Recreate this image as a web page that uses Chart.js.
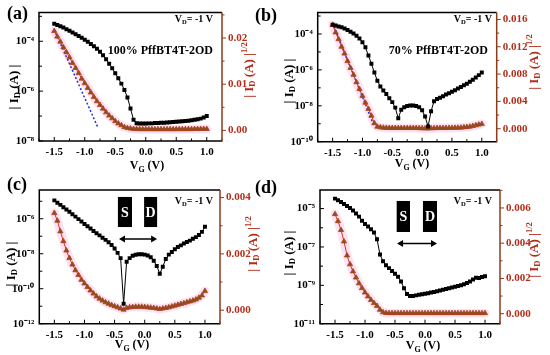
<!DOCTYPE html>
<html>
<head>
<meta charset="utf-8">
<script src="https://cdn.jsdelivr.net/npm/chart.js@4.4.1/dist/chart.umd.min.js"></script>
<style>
  body { margin: 0; background: #fff; width: 550px; height: 355px; position: relative; overflow: hidden; }
  canvas { position: absolute; }
  .tag { position: absolute; font: bold 18px "Liberation Serif", "Times New Roman", serif; line-height: 18px; color: #000; }
</style>
</head>
<body>
<canvas id="ca" width="275" height="177" style="left:0;top:0"></canvas>
<canvas id="cb" width="275" height="177" style="left:275px;top:0"></canvas>
<canvas id="cc" width="275" height="178" style="left:0;top:177px"></canvas>
<canvas id="cd" width="275" height="178" style="left:275px;top:177px"></canvas>
<div class="tag" style="left:7px;top:4px">(a)</div>
<div class="tag" style="left:255px;top:6px">(b)</div>
<div class="tag" style="left:7px;top:175px">(c)</div>
<div class="tag" style="left:255px;top:178px">(d)</div>
<script>
// gate voltage sweep (V)
const vg = [-1.5, -1.45, -1.4, -1.35, -1.3, -1.25, -1.2, -1.15, -1.1, -1.05, -1.0, -0.95, -0.9, -0.85, -0.8, -0.75, -0.7, -0.65, -0.6, -0.55, -0.5,
  -0.45, -0.4, -0.35, -0.3, -0.25, -0.2, -0.15, -0.1, -0.05, 0, 0.05, 0.1, 0.15, 0.2, 0.25, 0.3, 0.35, 0.4, 0.45, 0.5,
  0.55, 0.6, 0.65, 0.7, 0.75, 0.8, 0.85, 0.9, 0.95, 1.0];

// |ID| (A), left log axis
const idA = [5.0e-4, 4.47e-4, 3.98e-4, 3.55e-4, 3.02e-4, 2.63e-4, 2.24e-4, 1.91e-4, 1.62e-4, 1.38e-4, 1.15e-4, 9.5e-5, 7.8e-5, 6.3e-5, 5.0e-5, 3.8e-5, 2.75e-5,
  1.9e-5, 1.26e-5, 8.3e-6, 5.2e-6, 3.3e-6, 2.0e-6, 1.12e-6, 5.6e-7, 2.0e-7, 7.1e-8, 5.2e-8, 5.0e-8, 5.0e-8, 5.0e-8, 5.1e-8, 5.1e-8, 5.25e-8,
  5.25e-8, 5.4e-8, 5.4e-8, 5.5e-8, 5.6e-8, 5.75e-8, 5.9e-8, 6.0e-8, 6.2e-8, 6.3e-8, 6.5e-8, 6.8e-8, 7.1e-8, 7.4e-8, 7.9e-8, 8.7e-8, 1.0e-7];
const idB = [3.3e-4, 2.95e-4, 2.63e-4, 2.34e-4, 2.0e-4, 1.66e-4, 1.32e-4, 1.05e-4, 7.9e-5, 5.6e-5, 3.5e-5, 1.8e-5, 6.3e-6, 2.2e-6, 7.1e-7, 2.5e-7, 1.2e-7,
  7.1e-8, 4.5e-8, 2.6e-8, 1.6e-8, 7.9e-9, 2.0e-9, 6.0e-9, 8.3e-9, 9.8e-9, 1.05e-8, 1.05e-8, 9.8e-9, 8.3e-9, 5.6e-9, 2.5e-9, 7.1e-10, 5.0e-9,
  1.8e-8, 2.4e-8, 2.8e-8, 3.4e-8, 4.2e-8, 5.0e-8, 6.0e-8, 7.4e-8, 9.1e-8, 1.12e-7, 1.38e-7, 1.7e-7, 2.2e-7, 2.8e-7, 3.8e-7, 5.1e-7, 7.1e-7];
const idC = [1.12e-5, 8.3e-6, 6.2e-6, 4.6e-6, 3.4e-6, 2.5e-6, 1.82e-6, 1.32e-6, 9.5e-7, 6.9e-7, 5.0e-7, 3.7e-7, 2.75e-7, 2.0e-7, 1.5e-7, 1.12e-7, 8.3e-8,
  6.2e-8, 4.5e-8, 3.2e-8, 2.0e-8, 1.12e-8, 5.6e-9, 1.4e-11, 3.5e-9, 5.6e-9, 7.6e-9, 8.7e-9, 9.3e-9, 9.3e-9, 8.9e-9, 7.9e-9, 6.3e-9, 4.0e-9,
  2.0e-9, 7.1e-10, 1.8e-9, 5.0e-9, 8.9e-9, 1.26e-8, 1.8e-8, 2.4e-8, 3.0e-8, 3.8e-8, 4.7e-8, 5.6e-8, 7.1e-8, 8.9e-8, 1.17e-7, 1.78e-7, 3.5e-7];
const idD = [3.3e-5, 2.7e-5, 2.2e-5, 1.74e-5, 1.38e-5, 1.07e-5, 7.9e-6, 5.6e-6, 3.8e-6, 2.3e-6, 1.58e-6, 1.17e-6, 8.3e-7, 5.6e-7, 2.5e-7, 4.0e-8, 1.8e-8,
  1.12e-8, 7.9e-9, 5.6e-9, 4.0e-9, 2.8e-9, 1.6e-9, 7.1e-10, 3.5e-10, 2.8e-10, 2.8e-10, 3.0e-10, 3.2e-10, 3.4e-10, 3.6e-10, 3.9e-10, 4.2e-10,
  4.5e-10, 4.9e-10, 5.4e-10, 5.9e-10, 6.5e-10, 7.1e-10, 7.8e-10, 8.5e-10, 9.3e-10, 1.02e-9, 1.15e-9, 1.32e-9, 1.6e-9, 2.0e-9, 2.5e-9, 2.4e-9, 2.7e-9, 3.0e-9];

// |ID|^1/2, right linear axis
const sqA = [0.0215, 0.0203, 0.0192, 0.018, 0.0169, 0.0158, 0.0146, 0.0135, 0.0124, 0.0112, 0.0102, 0.0092, 0.0082, 0.0072, 0.0063, 0.0055, 0.0047,
  0.0039, 0.0032, 0.0026, 0.002, 0.0015, 0.0011, 0.0007, 0.0005, 0.0004, 0.0003, 0.00028, 0.00026, 0.00025, 0.00025, 0.00025, 0.00025, 0.00025,
  0.00025, 0.00025, 0.00025, 0.00025, 0.00025, 0.00025, 0.00025, 0.00026, 0.00026, 0.00026, 0.00027, 0.00027, 0.00028, 0.00028, 0.00029, 0.0003, 0.0003];
const sqB = [0.0152, 0.0141, 0.0131, 0.012, 0.011, 0.0099, 0.0089, 0.0079, 0.0068, 0.0058, 0.0048, 0.0038, 0.0029, 0.0019, 0.0008, 0.0003, 0.0002,
  0.00015, 0.00012, 0.0001, 0.0001, 0.0001, 0.0001, 0.0001, 0.0001, 0.0001, 0.0001, 0.0001, 0.00009, 0.00008, 0.00006, 0.00004, 0.00003, 0.00006,
  0.00008, 0.00009, 0.0001, 0.0001, 0.0001, 0.00011, 0.00012, 0.00013, 0.00014, 0.00016, 0.0002, 0.00025, 0.0003, 0.0004, 0.0005, 0.0006, 0.0007];
const sqC = [0.00345, 0.00318, 0.0028, 0.00245, 0.00212, 0.00185, 0.00162, 0.00142, 0.00125, 0.00108, 0.00095, 0.00082, 0.0007, 0.00059, 0.00049,
  0.00041, 0.00034, 0.00028, 0.00023, 0.00018, 0.00014, 0.0001, 0.00006, 0.00002, 0.00008, 0.0001, 0.00011, 0.00012, 0.00012, 0.00012, 0.00011,
  0.0001, 0.00009, 0.00008, 0.00006, 0.00004, 0.00006, 0.00008, 0.0001, 0.00013, 0.00016, 0.00019, 0.00022, 0.00025, 0.00028, 0.00031, 0.00034,
  0.00038, 0.00044, 0.00052, 0.00068];
const sqD = [0.00565, 0.00525, 0.00475, 0.0041, 0.0033, 0.0028, 0.0024, 0.00205, 0.00172, 0.00145, 0.0012, 0.00098, 0.00078, 0.0006, 0.00044, 0.00022,
  0.00008, 0.00004, 0.00003, 0.00003, 0.00003, 0.00003, 0.00003, 0.00003, 0.00003, 0.00003, 0.00003, 0.00003, 0.00003, 0.00003, 0.00003, 0.00003,
  0.00003, 0.00003, 0.00003, 0.00003, 0.00003, 0.00003, 0.00003, 0.00003, 0.00003, 0.00003, 0.00003, 0.00003, 0.00003, 0.00003, 0.00003, 0.00003,
  0.00003, 0.00003, 0.00003];

// linear fits (dotted blue)
const fitAx = [-1.5, -0.78], fitAy = [0.0218, 0.0005];
const fitBx = [-1.5, -0.8], fitBy = [0.0155, 0.0003];

// tick labels
const xTicks = [-1.5, -1.0, -0.5, 0, 0.5, 1.0];
const leftTicksA = [1e-8, 1e-6, 1e-4];
const leftTicksB = [1e-10, 1e-8, 1e-6, 1e-4];
const leftTicksC = [1e-12, 1e-10, 1e-8, 1e-6];
const leftTicksD = [1e-11, 1e-9, 1e-7, 1e-5];
const rightTicksA = [0, 0.01, 0.02];
const rightTicksB = [0, 0.004, 0.008, 0.012, 0.016];
const rightTicksC = [0, 0.002, 0.004];
const rightTicksD = [0, 0.002, 0.004, 0.006];

const SERIF = '"Liberation Serif", "Times New Roman", serif';
const RED = '#b32e1a';
const BROWN = '#8b3a1a';
const SUP = { '-': '⁻', '0': '⁰', '1': '¹', '2': '²', '3': '³', '4': '⁴', '5': '⁵', '6': '⁶', '7': '⁷', '8': '⁸', '9': '⁹' };

const ID_TITLE = [['| I', 0], ['D', 1], [' (A) |', 0]];
const SQ_TITLE = [['| I', 0], ['D', 1], [' (A) |', 0], ['1/2', 2]];
const VG_TITLE = [['V', 0], ['G', 1], [' (V)', 0]];
const VD_NOTE = [['V', 0], ['D', 1], ['= -1 V', 0]];

function pow10Label(v) {
  const e = String(Math.round(Math.log10(v)));
  return '10' + e.split('').map(c => SUP[c]).join('');
}

// text with sub/superscript parts; mode 0 normal, 1 sub, 2 sup
function drawParts(ctx, parts, x, y, size, color, rot, align) {
  ctx.save();
  ctx.translate(x, y);
  if (rot) ctx.rotate(rot);
  ctx.fillStyle = color;
  ctx.textBaseline = 'alphabetic';
  ctx.textAlign = 'left';
  const fonts = parts.map(p => 'bold ' + (p[1] ? size * 0.66 : size) + 'px ' + SERIF);
  let w = 0;
  parts.forEach((p, i) => { ctx.font = fonts[i]; w += ctx.measureText(p[0]).width; });
  let cx = align === 'right' ? -w : align === 'left' ? 0 : -w / 2;
  parts.forEach((p, i) => {
    ctx.font = fonts[i];
    const dy = p[1] === 1 ? size * 0.22 : p[1] === 2 ? -size * 0.42 : 0;
    ctx.fillText(p[0], cx, size * 0.35 + dy);
    cx += ctx.measureText(p[0]).width;
  });
  ctx.restore();
}

function arrow(ctx, x1, x2, y) {
  ctx.save();
  ctx.strokeStyle = '#000';
  ctx.fillStyle = '#000';
  ctx.lineWidth = 1.5;
  ctx.beginPath(); ctx.moveTo(x1 + 3, y); ctx.lineTo(x2 - 3, y); ctx.stroke();
  [[x1, 1], [x2, -1]].forEach(([x, d]) => {
    ctx.beginPath(); ctx.moveTo(x, y); ctx.lineTo(x + 6 * d, y - 3.5); ctx.lineTo(x + 6 * d, y + 3.5); ctx.closePath(); ctx.fill();
  });
  ctx.restore();
}

function makePanel(id, p) {
  const canvas = document.getElementById(id);
  const A = p.area;
  const pts = ys => vg.map((x, i) => ({ x, y: ys[i] }));
  const datasets = [
    { data: pts(p.cur), yAxisID: 'y', order: 1, borderColor: '#000', borderWidth: 1, pointStyle: 'rect',
      pointRadius: 2.8, pointBackgroundColor: '#000', pointBorderColor: '#000', pointBorderWidth: 0 },
    { data: pts(p.sq), yAxisID: 'y2', order: 2, borderColor: '#d8321e', borderWidth: 1, pointStyle: 'triangle',
      pointRadius: 3, pointBackgroundColor: '#7a5a1c', pointBorderColor: '#b83a1e', pointBorderWidth: 0.8 },
    { data: pts(p.sq), yAxisID: 'y2', order: 9, borderColor: 'rgba(250,160,215,0.3)', borderWidth: 9,
      pointRadius: 0, borderCapStyle: 'round', borderJoinStyle: 'round' }
  ];
  if (p.fitX) {
    datasets.push({ data: p.fitX.map((x, i) => ({ x, y: p.fitY[i] })), yAxisID: 'y2', order: 3,
      borderColor: '#2233cc', borderWidth: 1.5, borderDash: [2, 2], pointRadius: 0 });
  }

  const deco = {
    id: 'deco',
    afterDraw(chart) {
      const { ctx, chartArea: a, scales } = chart;
      ctx.save();
      // inward / outward tick marks
      ctx.lineWidth = 1;
      ctx.strokeStyle = '#000';
      scales.x.ticks.forEach(t => {
        const px = scales.x.getPixelForValue(t.value);
        ctx.beginPath(); ctx.moveTo(px, a.bottom); ctx.lineTo(px, a.bottom - (t.label ? 4 : 2.5)); ctx.stroke();
      });
      scales.y.ticks.forEach(t => {
        const py = scales.y.getPixelForValue(t.value);
        ctx.beginPath(); ctx.moveTo(a.left, py); ctx.lineTo(a.left + (t.label ? 4 : 3), py); ctx.stroke();
      });
      ctx.strokeStyle = BROWN;
      scales.y2.ticks.forEach(t => {
        const py = scales.y2.getPixelForValue(t.value);
        ctx.beginPath(); ctx.moveTo(a.right, py); ctx.lineTo(a.right + (t.label ? 4 : 2.5), py); ctx.stroke();
      });
      // frame
      ctx.lineWidth = 1.5;
      ctx.strokeStyle = '#000';
      ctx.beginPath();
      ctx.moveTo(a.right, a.top); ctx.lineTo(a.left, a.top); ctx.lineTo(a.left, a.bottom); ctx.lineTo(a.right, a.bottom);
      ctx.stroke();
      ctx.strokeStyle = BROWN;
      ctx.beginPath(); ctx.moveTo(a.right, a.top); ctx.lineTo(a.right, a.bottom + 0.75); ctx.stroke();
      ctx.restore();

      // axis titles
      drawParts(ctx, ID_TITLE, p.lt[0], p.lt[1], 13, '#000', -Math.PI / 2, 'center');
      drawParts(ctx, SQ_TITLE, p.rt[0], p.rt[1], 13, RED, -Math.PI / 2, 'center');
      drawParts(ctx, VG_TITLE, p.xt[0], p.xt[1], 12, '#000', 0, 'center');
      // notes
      drawParts(ctx, VD_NOTE, p.vd[0], p.vd[1], 10, '#000', 0, 'right');
      if (p.name) drawParts(ctx, [[p.name, 0]], p.nm[0], p.nm[1], 12, '#000', 0, 'right');
      // source / drain sketch
      if (p.inset) {
        const w = a.right - a.left, h = a.bottom - a.top;
        const s = p.inset;
        ctx.save();
        [[s.s, 'S'], [s.d, 'D']].forEach(([fx, ch]) => {
          const x0 = a.left + fx[0] * w, x1 = a.left + fx[1] * w;
          const y0 = a.top + s.y[0] * h, y1 = a.top + s.y[1] * h;
          ctx.fillStyle = '#000';
          ctx.fillRect(x0, y0, x1 - x0, y1 - y0);
          ctx.fillStyle = '#fff';
          ctx.font = 'bold 14px ' + SERIF;
          ctx.textAlign = 'center';
          ctx.textBaseline = 'middle';
          ctx.fillText(ch, (x0 + x1) / 2, (y0 + y1) / 2 + 1);
        });
        ctx.restore();
        arrow(ctx, a.left + s.ar[0] * w, a.left + s.ar[1] * w, a.top + s.ar[2] * h);
      }
    }
  };

  new Chart(canvas, {
    type: 'line',
    data: { datasets },
    options: {
      responsive: false,
      animation: false,
      devicePixelRatio: 1,
      layout: { padding: { top: A.t, left: 0, right: 0, bottom: 0 } },
      plugins: { legend: { display: false }, tooltip: { enabled: false } },
      scales: {
        x: {
          type: 'linear', min: -1.75, max: 1.25,
          afterBuildTicks: s => {
            const t = [];
            for (let k = -7; k <= 5; k++) t.push({ value: k * 0.25 });
            s.ticks = t;
          },
          afterFit: s => { s.height = p.H - A.b; },
          grid: { display: false, drawTicks: false },
          border: { display: false },
          ticks: {
            autoSkip: false, maxRotation: 0, padding: 5, color: '#000',
            font: { family: SERIF, size: 11, weight: 'bold' },
            callback: v => xTicks.some(t => Math.abs(t - v) < 1e-6) ? v.toFixed(1) : ''
          }
        },
        y: {
          type: 'logarithmic', position: 'left', min: p.yMin, max: p.yMax,
          afterBuildTicks: s => {
            const t = [];
            for (let e = Math.ceil(Math.log10(p.yMin) - 1e-9); e <= Math.log10(p.yMax) + 1e-9; e++) t.push({ value: Math.pow(10, e) });
            s.ticks = t;
          },
          afterFit: s => { s.width = A.l; },
          grid: { display: false, drawTicks: false },
          border: { display: false },
          ticks: {
            autoSkip: false, padding: 5, color: '#000',
            font: { family: SERIF, size: 11, weight: 'bold' },
            callback: v => p.yLabels.some(t => Math.abs(Math.log10(t) - Math.log10(v)) < 1e-6) ? pow10Label(v) : ''
          }
        },
        y2: {
          type: 'linear', position: 'right', min: p.rMin, max: p.rMax,
          afterBuildTicks: s => {
            const t = [];
            for (let k = 0; k * p.rStep <= p.rMax + 1e-12; k++) t.push({ value: +(k * p.rStep).toFixed(6) });
            s.ticks = t;
          },
          afterFit: s => { s.width = p.W - A.r; },
          grid: { display: false, drawTicks: false },
          border: { display: false },
          ticks: {
            autoSkip: false, padding: 6, color: RED,
            font: { family: SERIF, size: 11, weight: 'bold' },
            callback: v => p.rLabels.some(t => Math.abs(t - v) < 1e-9) ? v.toFixed(p.rDec) : ''
          }
        }
      }
    },
    plugins: [deco]
  });
}

makePanel('ca', {
  W: 275, H: 177, area: { l: 39, r: 222, t: 7, b: 141 },
  cur: idA, sq: sqA, fitX: fitAx, fitY: fitAy,
  yMin: 1e-8, yMax: 1.41e-3, yLabels: leftTicksA,
  rMin: -0.0023, rMax: 0.0255, rStep: 0.005, rLabels: rightTicksA, rDec: 2,
  lt: [13, 87], rt: [248, 70], xt: [147, 165], vd: [213, 18],
  name: '100% PffBT4T-2OD', nm: [213, 50]
});
makePanel('cb', {
  W: 275, H: 177, area: { l: 42.7, r: 221.7, t: 8, b: 141.7 },
  cur: idB, sq: sqB, fitX: fitBx, fitY: fitBy,
  yMin: 1e-10, yMax: 1.55e-3, yLabels: leftTicksB,
  rMin: -0.0019, rMax: 0.017, rStep: 0.002, rLabels: rightTicksB, rDec: 3,
  lt: [13, 81], rt: [258, 62], xt: [137, 163], vd: [217, 18],
  name: '70% PffBT4T-2OD', nm: [213, 50]
});
makePanel('cc', {
  W: 275, H: 178, area: { l: 39.3, r: 220, t: 13, b: 146.7 },
  cur: idC, sq: sqC,
  yMin: 1e-12, yMax: 4.4e-5, yLabels: leftTicksC,
  rMin: -0.00048, rMax: 0.00427, rStep: 0.001, rLabels: rightTicksC, rDec: 3,
  lt: [10, 87], rt: [252, 67], xt: [132, 167], vd: [213, 23],
  inset: { s: [0.435, 0.513], d: [0.58, 0.652], y: [0.052, 0.277], ar: [0.441, 0.652, 0.366] }
});
makePanel('cd', {
  W: 275, H: 178, area: { l: 45, r: 225, t: 13, b: 146.7 },
  cur: idD, sq: sqD,
  yMin: 1e-11, yMax: 9.3e-5, yLabels: leftTicksD,
  rMin: -0.00057, rMax: 0.00702, rStep: 0.001, rLabels: rightTicksD, rDec: 3,
  lt: [13, 76], rt: [258, 73], xt: [148, 168], vd: [217, 23],
  inset: { s: [0.426, 0.5], d: [0.572, 0.65], y: [0.082, 0.314], ar: [0.428, 0.65, 0.40] }
});
</script>
</body>
</html>
